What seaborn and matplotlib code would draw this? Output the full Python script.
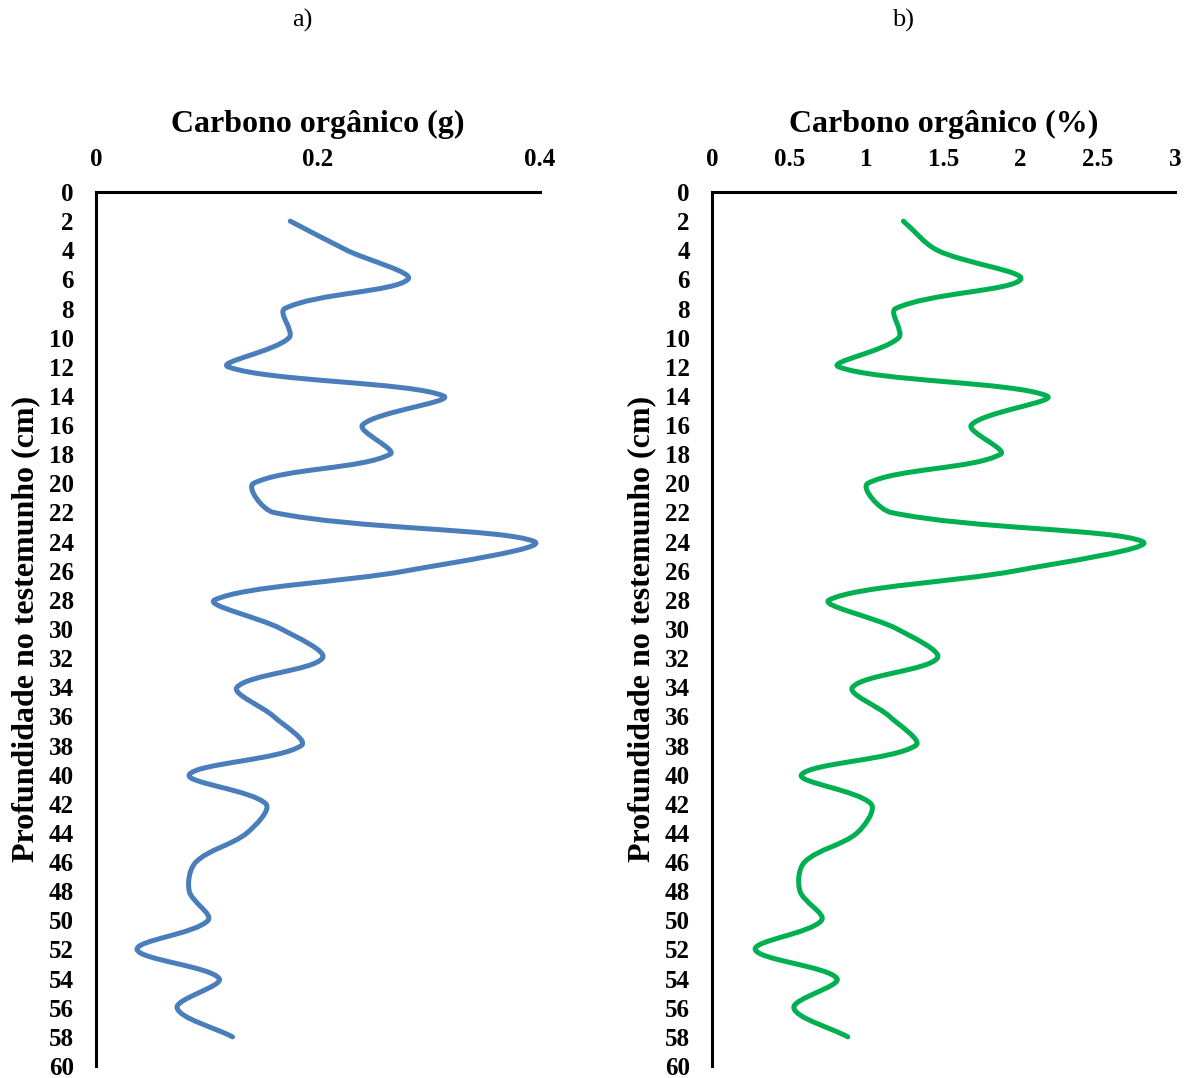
import numpy as np
import pandas as pd
import matplotlib
matplotlib.use('Agg')
import matplotlib.pyplot as plt
from matplotlib.path import Path
from matplotlib.patches import PathPatch
import seaborn as sns

# Data (depth in cm)

depth = [2, 4, 6, 8, 10, 12, 14, 16, 18, 20, 22, 24, 26, 28, 30,
         32, 34, 36, 38, 40, 42, 44, 46, 48, 50, 52, 54, 56, 58]
carbon_g = [0.175, 0.226, 0.281, 0.170, 0.174, 0.119, 0.313, 0.240, 0.265, 0.142,
            0.160, 0.395, 0.280, 0.107, 0.167, 0.204, 0.127, 0.160, 0.185, 0.084,
            0.153, 0.136, 0.090, 0.084, 0.101, 0.037, 0.111, 0.073, 0.123]
carbon_pct = [1.24, 1.46, 2.00, 1.19, 1.21, 0.82, 2.17, 1.68, 1.87, 1.01,
              1.16, 2.79, 1.97, 0.76, 1.20, 1.46, 0.91, 1.15, 1.32, 0.58,
              1.03, 0.94, 0.60, 0.57, 0.71, 0.28, 0.81, 0.53, 0.88]

df = pd.DataFrame({'depth': depth, 'g': carbon_g, 'pct': carbon_pct})

sns.set_style('white')
plt.rcParams['font.family'] = ['Liberation Serif', 'DejaVu Serif']
plt.rcParams['text.color'] = 'black'
plt.rcParams['xtick.color'] = 'black'
plt.rcParams['ytick.color'] = 'black'
plt.rcParams['axes.labelcolor'] = 'black'


def smooth_line(ax, color):
    # swap the straight seaborn line for an Excel-like smoothed bezier path,
    # control points weighted by segment length in screen space
    line = ax.lines[-1]
    line.set_visible(False)
    pts = ax.transData.transform(np.column_stack(line.get_data()))
    n = len(pts)
    seg = np.hypot(*np.diff(pts, axis=0).T)
    tan = np.zeros_like(pts)
    for i in range(n):
        a = pts[max(i - 1, 0)]
        b = pts[min(i + 1, n - 1)]
        d = (seg[i - 1] if i > 0 else 0) + (seg[i] if i < n - 1 else 0)
        tan[i] = (b - a) / d
    verts = [pts[0]]
    codes = [Path.MOVETO]
    for i in range(n - 1):
        c1 = pts[i] + tan[i] * seg[i] / 3.0
        c2 = pts[i + 1] - tan[i + 1] * seg[i] / 3.0
        verts += [c1, c2, pts[i + 1]]
        codes += [Path.CURVE4] * 3
    verts = ax.transData.inverted().transform(np.array(verts))
    ax.add_patch(PathPatch(Path(verts, codes), facecolor='none', edgecolor=color,
                           lw=3.6, capstyle='round', joinstyle='round'))


fig = plt.figure(figsize=(11.86, 10.78), dpi=100)
ax1 = fig.add_axes([96 / 1186, 1 - 1066 / 1078, 444 / 1186, 874 / 1078])
ax2 = fig.add_axes([712 / 1186, 1 - 1066 / 1078, 463 / 1186, 874 / 1078])

panels = [
    (ax1, 'g', '#4A7EBB', 'Carbono orgânico (g)', [0, 0.2, 0.4], ['0', '0.2', '0.4'], 0.4, 'a)', 302),
    (ax2, 'pct', '#00B050', 'Carbono orgânico (%)', [0, 0.5, 1, 1.5, 2, 2.5, 3],
     ['0', '0.5', '1', '1.5', '2', '2.5', '3'], 3, 'b)', 903),
]

for ax, col, color, xlabel, xt, xtl, xmax, tag, tagx in panels:
    sns.lineplot(data=df, x=col, y='depth', sort=False, orient='y', color=color, ax=ax)
    ax.set_xlim(0, xmax)
    ax.set_ylim(60, 0)
    smooth_line(ax, color)
    ax.xaxis.tick_top()
    ax.xaxis.set_label_position('top')
    ax.set_xticks(xt)
    ax.set_xticklabels(xtl)
    ax.set_yticks(range(0, 61, 2))
    ax.tick_params(length=0, labelsize=18, pad=15)
    ax.tick_params(axis='y', pad=16)
    for lbl in ax.get_xticklabels() + ax.get_yticklabels():
        lbl.set_fontweight('bold')
    ax.set_xlabel(xlabel, fontsize=23, fontweight='bold', labelpad=12)
    ax.set_ylabel('Profundidade no testemunho (cm)', fontsize=23, fontweight='bold', labelpad=6)
    for s in ['right', 'bottom']:
        ax.spines[s].set_visible(False)
    for s in ['left', 'top']:
        ax.spines[s].set_color('black')
        ax.spines[s].set_linewidth(2.2)
    fig.text(tagx / 1186, 1 - 20 / 1078, tag, ha='center', va='center', fontsize=19)

fig.savefig('out.png', dpi=100)
